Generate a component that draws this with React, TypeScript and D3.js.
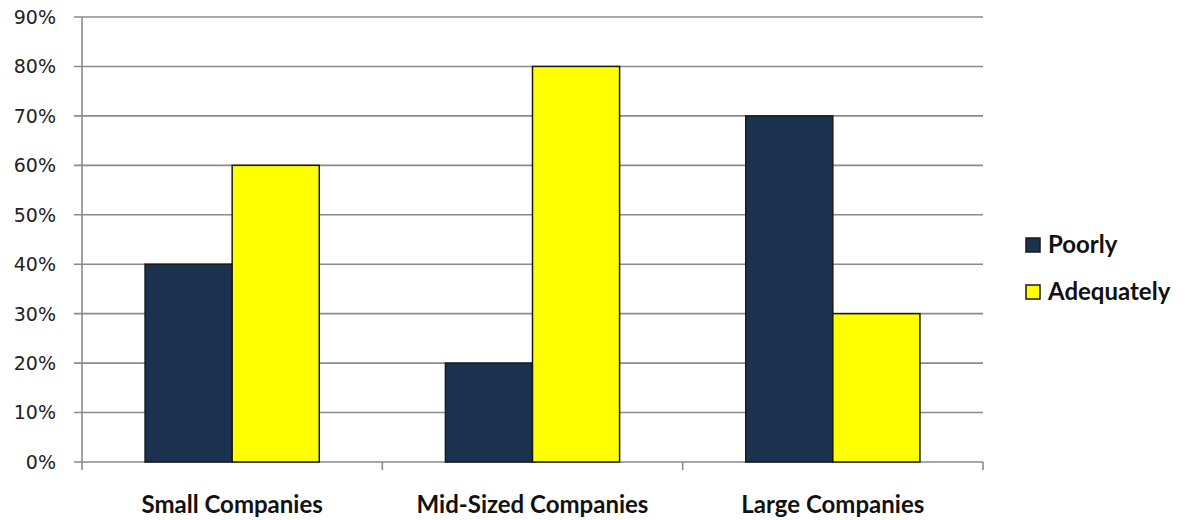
import React from "react";
import * as d3 from "d3";

const categories = ["Small Companies", "Mid-Sized Companies", "Large Companies"];
const seriesNames = ["Poorly", "Adequately"];
const poorly = [40, 20, 70];
const adequately = [60, 80, 30];
const yTicks = [0, 10, 20, 30, 40, 50, 60, 70, 80, 90];
const colors = ["#1b3150", "#ffff00"];

const W = 1188;
const H = 520;
const plot = { left: 82, right: 983, top: 17, bottom: 462 };

export default function App() {
  const x0 = d3
    .scaleBand<string>()
    .domain(categories)
    .range([plot.left, plot.right])
    .paddingInner(0)
    .paddingOuter(0);
  const bandW = x0.bandwidth();
  const groupW = bandW * 0.58;
  const x1 = d3
    .scaleBand<string>()
    .domain(seriesNames)
    .range([(bandW - groupW) / 2, (bandW + groupW) / 2]);
  const y = d3.scaleLinear().domain([0, 90]).range([plot.bottom, plot.top]);

  const values = [poorly, adequately];
  const catTicks = [...categories.map((c) => x0(c)!), plot.right];

  return (
    <svg
      width={W}
      height={H}
      style={{ position: "absolute", left: 0, top: 0, background: "#fff" }}
    >
      {/* horizontal gridlines and y tick marks */}
      {yTicks.map((t) => (
        <g key={t}>
          <line
            x1={plot.left - 8}
            x2={plot.right}
            y1={y(t)}
            y2={y(t)}
            stroke="#8a8a8a"
            strokeWidth={1.6}
          />
          <text
            x={56}
            y={y(t)}
            dy="0.36em"
            textAnchor="end"
            fontFamily="DejaVu Sans, sans-serif"
            fontSize={19}
            fill="#222"
          >
            {t}%
          </text>
        </g>
      ))}
      {/* y axis */}
      <line
        x1={plot.left}
        x2={plot.left}
        y1={plot.top}
        y2={plot.bottom}
        stroke="#8a8a8a"
        strokeWidth={1.6}
      />
      {/* category tick marks */}
      {catTicks.map((cx, i) => (
        <line
          key={i}
          x1={cx}
          x2={cx}
          y1={plot.bottom}
          y2={plot.bottom + 8}
          stroke="#8a8a8a"
          strokeWidth={1.6}
        />
      ))}
      {/* bars */}
      {categories.map((c, ci) => (
        <g key={c} transform={`translate(${x0(c)},0)`}>
          {seriesNames.map((s, si) => (
            <rect
              key={s}
              x={x1(s)}
              y={y(values[si][ci])}
              width={x1.bandwidth()}
              height={y(0) - y(values[si][ci])}
              fill={colors[si]}
              stroke="#1a1a1a"
              strokeWidth={1.5}
            />
          ))}
          <text
            x={bandW / 2}
            y={513}
            textAnchor="middle"
            fontFamily="Lato, sans-serif"
            fontWeight="bold"
            fontSize={24}
            fill="#111"
          >
            {c}
          </text>
        </g>
      ))}
      {/* legend */}
      {seriesNames.map((s, i) => (
        <g key={s} transform={`translate(1026,${238 + i * 47})`}>
          <rect
            x={0}
            y={0}
            width={14}
            height={14}
            fill={colors[i]}
            stroke="#1a1a1a"
            strokeWidth={1.5}
          />
          <text
            x={22}
            y={15}
            fontFamily="Lato, sans-serif"
            fontWeight="bold"
            fontSize={24}
            fill="#111"
          >
            {s}
          </text>
        </g>
      ))}
    </svg>
  );
}
